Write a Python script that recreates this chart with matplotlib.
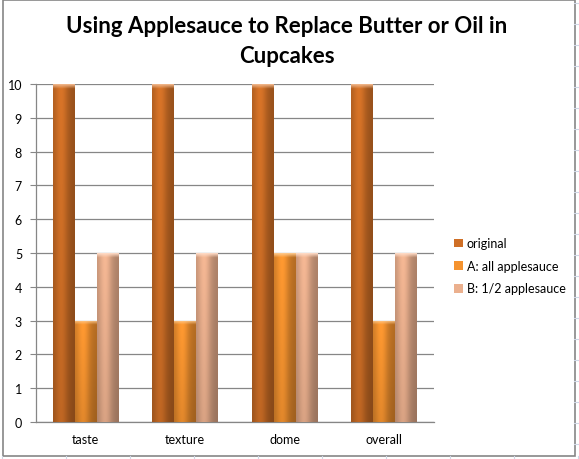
import numpy as np
import matplotlib
matplotlib.use('Agg')
import matplotlib.pyplot as plt
from matplotlib.colors import to_rgb
from matplotlib.patches import Rectangle
from matplotlib.lines import Line2D

# chart data
categories = ['taste', 'texture', 'dome', 'overall']
series_names = ['original', 'A: all applesauce', 'B: 1/2 applesauce']
original = [10, 10, 10, 10]
all_applesauce = [3, 3, 5, 3]
half_applesauce = [5, 5, 5, 5]

colors = ['#CF6F26', '#F5932F', '#EBB08E']

plt.rcParams['font.family'] = ['Lato', 'DejaVu Sans']

fig = plt.figure(figsize=(5.79, 4.60), dpi=100)

# faint spreadsheet cells around the chart object
for yy in np.arange(4, 460, 21):
    fig.add_artist(Line2D([574/579, 1], [1 - yy/460, 1 - yy/460], color='#D0D7E5', lw=0.8))
for xx in np.arange(0, 579, 64):
    fig.add_artist(Line2D([(xx + 2)/579, (xx + 2)/579], [0, 3/460], color='#D0D7E5', lw=0.8))

# chart frame
fig.add_artist(Rectangle((3/579, 3/460), 572/579, 456/460, transform=fig.transFigure,
                         facecolor='white', edgecolor='#868686', lw=1.2, zorder=0))

ax = fig.add_axes([36/579, 37/460, 398/579, 338/460])
ax.set_facecolor('none')

fig.text(287/579, 1 - 33/460, 'Using Applesauce to Replace Butter or Oil in',
         ha='center', va='baseline', fontsize=16, fontweight='bold')
fig.text(287/579, 1 - 63/460, 'Cupcakes',
         ha='center', va='baseline', fontsize=16, fontweight='bold')

x = np.arange(len(categories))
width = 0.22
all_series = [original, all_applesauce, half_applesauce]

# horizontal shading profile for the bars
t = np.linspace(0, 1, 40)
profile = 0.82 + 0.26 * np.exp(-((t - 0.38) / 0.3) ** 2) - 0.08 * t

handles = []
for i, (vals, col) in enumerate(zip(all_series, colors)):
    bars = ax.bar(x + (i - 1) * width, vals, width, color=col, edgecolor='none',
                  zorder=2, label=series_names[i])
    handles.append(bars)
    base = np.array(to_rgb(col))
    for b in bars:
        h = b.get_height()
        ny = 400
        img = np.zeros((ny, len(t), 3))
        yv = np.linspace(1, 0, ny)  # top to bottom
        vert = 1.0 - 0.12 * (1 - yv)
        for k in range(3):
            img[:, :, k] = np.clip(base[k] * np.outer(vert, profile), 0, 1)
        # light rounded cap at the top
        cap = int(ny * 0.12 / h) + 1
        light = np.clip(base * 0.6 + 0.45, 0, 1)
        for r in range(cap):
            a = 1 - r / cap
            img[r] = img[r] * (1 - a) + light * a
        im = ax.imshow(img, extent=(b.get_x(), b.get_x() + b.get_width(), 0, h),
                       aspect='auto', zorder=3, interpolation='bilinear')
        im.set_clip_path(b)

ax.set_xlim(-0.5, len(categories) - 0.5)
ax.set_ylim(0, 10)
ax.set_yticks(range(0, 11))
ax.set_xticks(x)
ax.set_xticklabels(categories)
ax.yaxis.grid(True, color='#868686', lw=0.9, zorder=0)
ax.set_axisbelow(True)
for s in ['top', 'right']:
    ax.spines[s].set_visible(False)
for s in ['left', 'bottom']:
    ax.spines[s].set_color('#868686')
    ax.spines[s].set_linewidth(0.9)
ax.tick_params(axis='y', length=4, color='#868686', labelsize=9, pad=6)
ax.tick_params(axis='x', length=0, labelsize=9, pad=8)

leg = fig.legend(handles, series_names, loc='upper left', bbox_to_anchor=(443/579, 1 - 227/460),
                 frameon=False, fontsize=9, handlelength=0.7, handleheight=0.7,
                 handletextpad=0.3, labelspacing=0.85)

fig.savefig('out.png', dpi=100)
